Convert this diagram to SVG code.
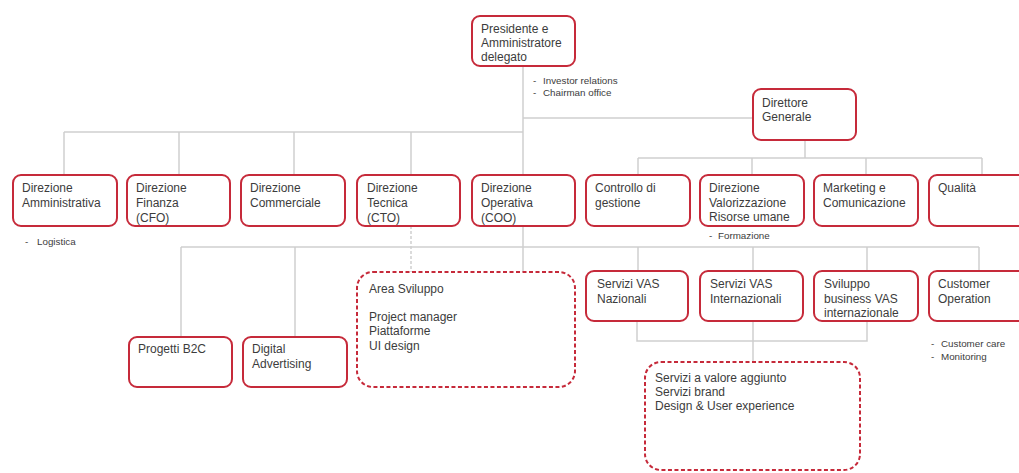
<svg xmlns="http://www.w3.org/2000/svg" width="1019" height="473" viewBox="0 0 1019 473">
<style>
.box{fill:#fff;stroke:#c62a3a;stroke-width:2}
.dbox{fill:#fff;stroke:#c62a3a;stroke-width:2;stroke-dasharray:4 2.5}
.ln{fill:none;stroke:#cfcfcf;stroke-width:1.5}
.dln{fill:none;stroke:#cfcfcf;stroke-width:1.5;stroke-dasharray:3 2}
text{font-family:"Liberation Sans",Arial,sans-serif;font-size:12px;fill:#3c3c3c}
.sm{font-size:9.8px}
</style>
<rect width="1019" height="473" fill="#fff"/>
<g id="connectors">
<path class="ln" d="M523 66V272M64 132H523M64 132V175M179 132V175M294 132V175M411 132V175"/>
<path class="ln" d="M523 118H753M805 140V158M638 158H982M638 158V175M752 158V175M866 158V175M982 158V175"/>
<path class="ln" d="M181 247H979M181 247V337M295 247V337M638 247V271M753 247V271M867 247V271M979 247V271"/>
<path class="ln" d="M637 321V341H867V321M753 321V362"/>
<path class="dln" d="M411 226V272"/>
</g>
<g id="n-presidente"><rect class="box" x="472" y="16" width="103" height="50" rx="8"/><text x="481" y="33">Presidente e</text><text x="481" y="47">Amministratore</text><text x="481" y="61">delegato</text></g>
<g id="n-presidente-notes"><text class="sm" x="533" y="83.5">-</text><text class="sm" x="543" y="83.5">Investor relations</text><text class="sm" x="533" y="96">-</text><text class="sm" x="543" y="96">Chairman office</text></g>
<g id="n-dg"><rect class="box" x="753" y="89" width="103" height="51" rx="8"/><text x="762" y="107">Direttore</text><text x="762" y="121">Generale</text></g>
<g id="n-amm"><rect class="box" x="13" y="175" width="104" height="51" rx="8"/><text x="22" y="192">Direzione</text><text x="22" y="207">Amministrativa</text></g>
<g id="n-amm-notes"><text class="sm" x="25" y="245">-</text><text class="sm" x="37" y="245">Logistica</text></g>
<g id="n-cfo"><rect class="box" x="127" y="175" width="103" height="51" rx="8"/><text x="136" y="192">Direzione</text><text x="136" y="207">Finanza</text><text x="136" y="222">(CFO)</text></g>
<g id="n-comm"><rect class="box" x="241" y="175" width="104" height="51" rx="8"/><text x="250" y="192">Direzione</text><text x="250" y="207">Commerciale</text></g>
<g id="n-cto"><rect class="box" x="357" y="175" width="103" height="51" rx="8"/><text x="367" y="192">Direzione</text><text x="367" y="207">Tecnica</text><text x="367" y="222">(CTO)</text></g>
<g id="n-coo"><rect class="box" x="472" y="175" width="103" height="51" rx="8"/><text x="481" y="192">Direzione</text><text x="481" y="207">Operativa</text><text x="481" y="222">(COO)</text></g>
<g id="n-controllo"><rect class="box" x="586" y="175" width="104" height="51" rx="8"/><text x="595" y="192">Controllo di</text><text x="595" y="207">gestione</text></g>
<g id="n-hr"><rect class="box" x="700" y="175" width="104" height="51" rx="8"/><text x="709" y="192">Direzione</text><text x="709" y="207">Valorizzazione</text><text x="709" y="221">Risorse umane</text></g>
<g id="n-hr-notes"><text class="sm" x="709" y="238.5">-</text><text class="sm" x="718" y="238.5">Formazione</text></g>
<g id="n-mkt"><rect class="box" x="814" y="175" width="104" height="51" rx="8"/><text x="823" y="192">Marketing e</text><text x="823" y="207">Comunicazione</text></g>
<g id="n-qual"><rect class="box" x="929" y="175" width="104" height="51" rx="8"/><text x="938" y="192">Qualità</text></g>
<g id="n-b2c"><rect class="box" x="129" y="337" width="103" height="50" rx="8"/><text x="138" y="353">Progetti B2C</text></g>
<g id="n-adv"><rect class="box" x="243" y="337" width="104" height="50" rx="8"/><text x="252" y="353">Digital</text><text x="252" y="368">Advertising</text></g>
<g id="n-sviluppo"><rect class="dbox" x="357" y="272" width="218" height="115" rx="16"/><text x="369" y="293">Area Sviluppo</text><text x="369" y="321">Project manager</text><text x="369" y="335">Piattaforme</text><text x="369" y="350">UI design</text></g>
<g id="n-vasnaz"><rect class="box" x="586" y="271" width="102" height="50" rx="8"/><text x="597" y="288">Servizi VAS</text><text x="597" y="303">Nazionali</text></g>
<g id="n-vasint"><rect class="box" x="700" y="271" width="103" height="50" rx="8"/><text x="710" y="288">Servizi VAS</text><text x="710" y="303">Internazionali</text></g>
<g id="n-svvas"><rect class="box" x="814" y="271" width="104" height="50" rx="8"/><text x="824" y="288">Sviluppo</text><text x="824" y="303">business VAS</text><text x="824" y="317">internazionale</text></g>
<g id="n-custop"><rect class="box" x="929" y="271" width="104" height="50" rx="8"/><text x="938" y="288">Customer</text><text x="938" y="303">Operation</text></g>
<g id="n-custop-notes"><text class="sm" x="931" y="347">-</text><text class="sm" x="941" y="347">Customer care</text><text class="sm" x="931" y="360">-</text><text class="sm" x="941" y="360">Monitoring</text></g>
<g id="n-vasarea"><rect class="dbox" x="645" y="362" width="215" height="108" rx="16"/><text x="655" y="382">Servizi a valore aggiunto</text><text x="655" y="396">Servizi brand</text><text x="655" y="410">Design &amp; User experience</text></g>
</svg>
